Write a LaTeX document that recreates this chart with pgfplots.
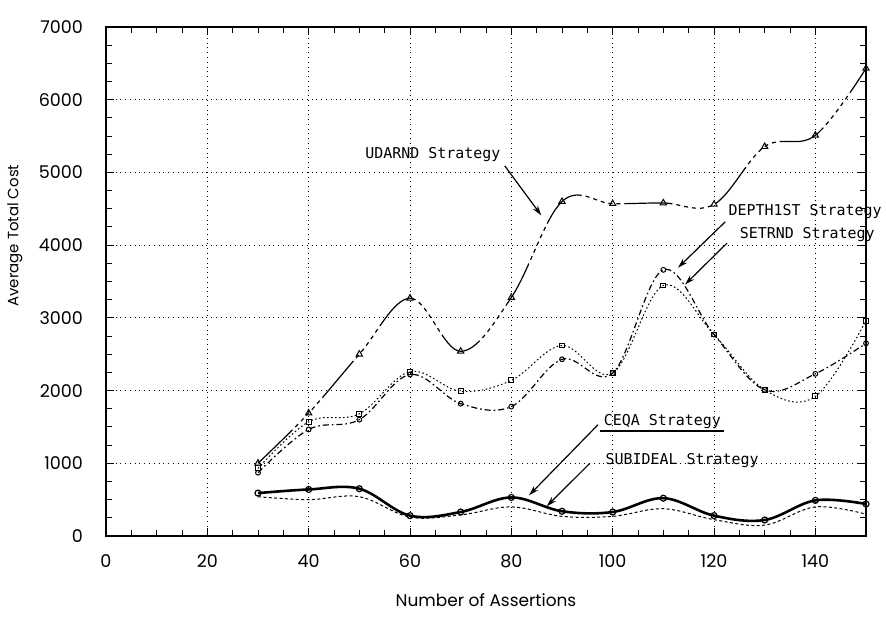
\documentclass[border=0pt]{standalone}
\usepackage{pgfplots}
\pgfplotsset{compat=1.18}
\usepackage{fontspec}
\setmainfont{Poppins}
\newfontfamily\plotter{DejaVu Sans Mono}
\usetikzlibrary{arrows.meta}
\begin{document}
\begin{tikzpicture}[x=0.5bp,y=0.5bp]
\path[use as bounding box] (-106,-88) rectangle (780,536);
\begin{axis}[
  at={(0,0)}, anchor=south west,
  scale only axis, width=380bp, height=254.5bp,
  xmin=0, xmax=150, ymin=0, ymax=7000,
  xtick={0,20,...,140}, ytick={0,1000,...,7000},
  minor x tick num=3, minor y tick num=3,
  grid=major, major grid style={black, dotted, line width=0.5pt},
  tick align=inside, tick pos=both,
  major tick length=4bp, minor tick length=3bp,
  every tick/.style={black, line width=0.5pt},
  axis line style={black, line width=0.7pt},
  clip=false,
  scaled y ticks=false,
  /pgf/number format/1000 sep={},
  /pgf/number format/assume math mode=true,
  ticklabel style={font=\fontsize{8.8}{10}\selectfont},
  yticklabel style={xshift=-8bp},
  xticklabel style={yshift=-6bp},
  xlabel={Number of Assertions}, ylabel={Average Total Cost},
  xlabel style={at={(axis description cs:0.5,-0.125)}, anchor=center, font=\fontsize{8.5}{10}\selectfont},
  ylabel style={at={(axis description cs:-0.12,0.59)}, anchor=center, font=\fontsize{7.5}{9}\selectfont},
  every axis plot/.append style={black, smooth, tension=0.6},
]
% UDARND
\addplot[line width=0.6pt, dash pattern=on 24bp off 2bp on 2bp off 2bp on 2bp off 2bp on 2bp off 2bp on 2bp off 2bp on 2bp off 2bp,
  mark=triangle, mark size=1.8bp, mark options={solid, line width=0.5pt}] coordinates {
(30,1000) (40,1690) (50,2500) (60,3270) (70,2540) (80,3280) (90,4600) (100,4570) (110,4580) (120,4560) (130,5355) (140,5510) (150,6430)};
% SETRND (dotted, squares)
\addplot[line width=0.5pt, dash pattern=on 0.8bp off 1.2bp,
  mark=square, mark size=1.2bp, mark options={solid, line width=0.5pt}] coordinates {
(30,930) (40,1570) (50,1680) (60,2260) (70,1990) (80,2140) (90,2620) (100,2240) (110,3445) (120,2770) (130,2010) (140,1920) (150,2960)};
% DEPTH1ST (dash-dot, circles)
\addplot[line width=0.6pt, dash pattern=on 3bp off 1.5bp on 0.8bp off 1.5bp,
  mark=o, mark size=1.2bp, mark options={solid, line width=0.5pt}] coordinates {
(30,870) (40,1465) (50,1600) (60,2220) (70,1820) (80,1780) (90,2430) (100,2240) (110,3660) (120,2770) (130,2010) (140,2230) (150,2650)};
% CEQA (thick solid)
\addplot[line width=1.3pt,
  mark=o, mark size=1.5bp, mark options={solid, line width=0.6pt}] coordinates {
(30,590) (40,640) (50,650) (60,280) (70,330) (80,530) (90,340) (100,330) (110,520) (120,280) (130,220) (140,490) (150,440)};
% SUBIDEAL (dotted thin)
\addplot[line width=0.5pt, dash pattern=on 1.5bp off 1.2bp] coordinates {
(30,540) (40,500) (50,540) (60,260) (70,290) (80,400) (90,270) (100,270) (110,375) (120,225) (130,150) (140,400) (150,300)};
% annotations
\node[font=\plotter\fontsize{7.5}{9}\selectfont] at (axis cs:64.5,5250) {UDARND Strategy};
\draw[-{Stealth[length=5bp,width=3bp]}, line width=0.6pt] (axis cs:78.7,5090) -- (axis cs:85.9,4410);
\node[font=\plotter\fontsize{7.5}{9}\selectfont] at (axis cs:138,4460) {DEPTH1ST Strategy};
\node[font=\plotter\fontsize{7.5}{9}\selectfont] at (axis cs:138.4,4150) {SETRND Strategy};
\draw[-{Stealth[length=5bp,width=3bp]}, line width=0.6pt] (axis cs:122.2,4320) -- (axis cs:112.9,3690);
\draw[-{Stealth[length=5bp,width=3bp]}, line width=0.6pt] (axis cs:122.6,4030) -- (axis cs:114.3,3460);
\node[font=\plotter\fontsize{7.5}{9}\selectfont] at (axis cs:109.8,1570) {CEQA Strategy};
\draw[line width=0.8pt] (axis cs:97.5,1440) -- (axis cs:122,1440);
\draw[-{Stealth[length=5bp,width=3bp]}, line width=0.6pt] (axis cs:97.1,1530) -- (axis cs:83.5,560);
\node[font=\plotter\fontsize{7.5}{9}\selectfont] at (axis cs:113.7,1040) {SUBIDEAL Strategy};
\draw[-{Stealth[length=5bp,width=3bp]}, line width=0.6pt] (axis cs:95.5,1000) -- (axis cs:87,410);
\end{axis}
\end{tikzpicture}
\end{document}
